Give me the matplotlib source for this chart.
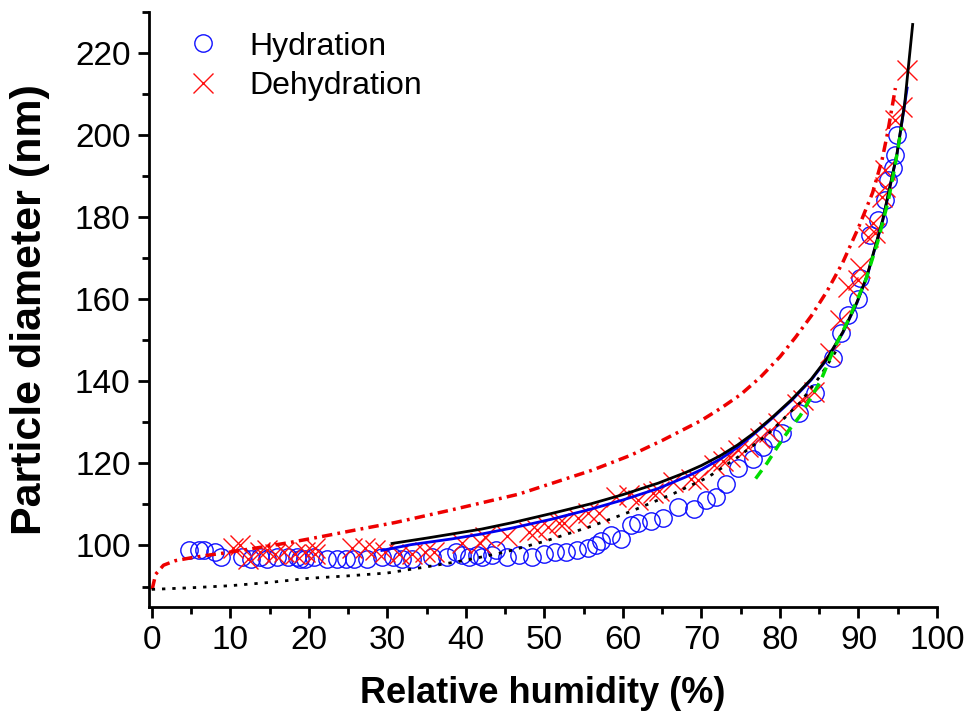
import matplotlib
matplotlib.use('Agg')
import matplotlib.pyplot as plt
from matplotlib.ticker import MultipleLocator

plt.rcParams['font.family'] = ['Liberation Sans', 'DejaVu Sans']

# measured hydration (blue circles)
hyd_rh = [4.8, 6.0, 6.6, 8.1, 8.8, 11.5, 12.6, 13.8, 14.7, 16.0, 17.3, 18.5, 18.9, 19.5,
          20.7, 22.3, 23.6, 24.7, 25.8, 27.4, 29.3, 30.7, 31.9, 33.1, 35.7, 37.6, 38.8,
          39.5, 40.4, 41.4, 42.0, 43.3, 43.9, 45.2, 46.8, 48.4, 50.0, 51.3, 52.8, 54.1,
          55.5, 56.6, 57.2, 58.5, 59.7, 61.0, 61.9, 63.6, 65.1, 67.0, 69.0, 70.6, 71.8,
          73.1, 74.6, 76.6, 77.9, 79.1, 80.2, 82.4, 84.4, 86.7, 87.8, 88.7, 90.0, 90.2,
          91.5, 92.5, 93.4, 93.8, 94.4, 94.7, 94.9]
hyd_d = [99.0, 99.0, 99.0, 98.3, 97.3, 97.1, 96.8, 97.3, 96.8, 97.3, 97.1, 97.3, 96.8, 96.8,
         97.1, 96.8, 96.6, 96.8, 96.8, 96.8, 97.1, 97.1, 96.8, 96.8, 97.1, 97.3, 98.3,
         97.6, 97.1, 97.6, 97.3, 97.6, 99.0, 97.3, 97.8, 97.3, 98.0, 98.3, 98.5, 99.0,
         99.3, 100.0, 101.0, 102.5, 101.7, 104.9, 105.6, 106.0, 106.6, 109.3, 109.0, 111.0, 111.7,
         115.1, 118.8, 121.2, 123.9, 126.3, 127.3, 132.2, 137.1, 145.6, 151.7, 156.1, 160.2, 165.1,
         175.6, 179.3, 184.1, 189.0, 191.9, 195.1, 200.0]

# measured dehydration (red crosses)
deh_rh = [10.3, 11.3, 12.2, 13.8, 14.7, 15.7, 16.9, 18.3, 19.5, 20.8, 20.8, 25.5, 27.2, 28.4,
          29.7, 31.5, 33.1, 34.8, 36.0, 39.5, 41.8, 42.4, 45.2, 48.1, 49.0, 50.5, 51.8, 52.5,
          54.3, 55.6, 56.9, 59.1, 60.8, 61.9, 63.8, 64.6, 66.4, 68.7, 69.5, 71.6, 72.7, 73.7,
          74.6, 75.9, 77.5, 78.6, 79.8, 82.2, 82.9, 84.3, 86.4, 87.7, 88.7, 90.0, 90.2, 91.2,
          91.9, 92.1, 93.0, 93.4, 93.4, 94.7, 95.6, 96.2]
deh_d = [99.5, 100.0, 96.8, 98.3, 98.8, 98.0, 98.3, 98.0, 98.3, 98.0, 99.5, 99.3, 99.3, 98.8,
         98.3, 98.0, 98.0, 98.3, 98.3, 100.5, 100.7, 102.0, 102.4, 103.2, 103.7, 104.4, 105.4, 105.6,
         106.8, 107.8, 108.0, 111.7, 112.2, 111.0, 112.9, 113.4, 115.4, 116.3, 115.9, 119.5, 120.7, 121.5,
         123.2, 123.9, 126.3, 127.6, 129.8, 134.6, 135.4, 137.3, 146.8, 154.9, 162.9, 164.6, 167.6, 175.1,
         178.5, 176.1, 184.9, 187.3, 191.5, 203.7, 206.8, 215.9]

# model curves
dd_rh = [0.05, 0.5, 1.5, 3, 5, 7, 9, 13, 17.5, 21.7, 26, 31, 38, 46.7, 52, 56, 61, 65, 70,
         72.5, 75, 77.5, 80, 82, 84, 86, 88, 90, 91.8, 93, 93.7, 94.7]
dd_d = [89.3, 93, 95.2, 96.3, 97, 97.6, 98.1, 99.3, 100.7, 102.2, 103.8, 105.6, 108.6, 112.5,
        115.8, 118.3, 122, 125.6, 130.5, 133.5, 136.8, 141, 146, 150.8, 156, 162, 169,
        177.5, 186, 194, 200.5, 211.5]

dot_rh = [0, 5, 10, 15, 20, 25, 30, 35, 40, 45, 50, 56, 61, 66.5, 70.8, 74.6, 78.4, 82.6, 85.2, 87.5]
dot_d = [89.3, 89.7, 90.2, 91, 92, 92.6, 93.3, 94.8, 96.4, 98.4, 101, 104.7, 108.3, 112.7,
         116.6, 121.5, 127, 134.9, 141.5, 148.5]

blk_rh = [30.6, 35, 38.2, 42, 46, 50.9, 56, 60, 64.5, 68, 70, 72.5, 74.6, 76.6, 79, 81.5,
          84, 86, 88, 89.8, 91.1, 93.1, 94.9, 95.9, 96.9]
blk_d = [100.5, 101.8, 102.8, 104, 105.6, 107.8, 110.2, 112.4, 115.2, 117.8, 119.5, 122, 124.5,
         127.3, 131.2, 135.6, 140.6, 145.6, 152, 159.3, 165.8, 179.5, 195.5, 208, 227]

blu_rh = [29.3, 33, 38.2, 42, 46, 50.9, 56, 60, 64.5, 68, 70, 72.5, 74.6, 76.6, 79, 81.5, 84,
          86, 88, 89.8, 91.1, 93.1, 94.9, 96.2]
blu_d = [98.8, 100.2, 101.6, 102.8, 104.3, 106.4, 108.9, 111.1, 113.9, 116.7, 118.5, 121.2,
         123.9, 127, 131, 135.4, 140.4, 145.4, 151.8, 159.1, 165.6, 179.3, 195.3, 211.5]

grn_rh = [76.9, 78.4, 79.8, 81.1, 82.6, 83.9, 85.2, 86.8, 88.7, 90.9, 92.4, 93.8, 94.6, 95.5]
grn_d = [116.3, 120.2, 124.4, 128, 131.7, 135.9, 140.2, 147.6, 154.9, 164.6, 173.7, 184.1, 192, 202]

fig = plt.figure(figsize=(9.65, 7.15), dpi=100)
ax = fig.add_axes([0.154, 0.151, 0.817, 0.832])

ax.plot(hyd_rh, hyd_d, 'o', ms=12.5, mfc='none', mec='#1010ff', mew=1.0, label='Hydration')
ax.plot(deh_rh, deh_d, 'x', ms=14, color='#ff1010', mew=1.0, label='Dehydration')

ax.plot(dd_rh, dd_d, color='#ee0000', lw=2.5, dashes=(3, 1.5, 0.8, 1.5))
ax.plot(dot_rh, dot_d, color='black', lw=2, dashes=(1.2, 2.5))
ax.plot(blu_rh, blu_d, color='#0000ee', lw=2)
ax.plot(blk_rh, blk_d, color='black', lw=2)
ax.plot(grn_rh, grn_d, color='#00dd00', lw=2.5, dashes=(3, 2))

ax.set_xlim(-0.4, 100)
ax.set_ylim(85, 230)
ax.xaxis.set_major_locator(MultipleLocator(10))
ax.xaxis.set_minor_locator(MultipleLocator(5))
ax.yaxis.set_major_locator(MultipleLocator(20))
ax.yaxis.set_minor_locator(MultipleLocator(10))

for s in ['top', 'right']:
    ax.spines[s].set_visible(False)
for s in ['left', 'bottom']:
    ax.spines[s].set_linewidth(2)
ax.tick_params(which='major', direction='out', length=8, width=2, labelsize=24, pad=5)
ax.tick_params(which='minor', direction='out', length=5, width=2)

ax.set_xlabel('Relative humidity (%)', fontsize=26, fontweight='bold', labelpad=14)
ax.set_ylabel('Particle diameter (nm)', fontsize=31, fontweight='bold', labelpad=18)

ax.legend(loc='upper left', bbox_to_anchor=(0.0, 1.005), frameon=False, fontsize=23,
          handletextpad=0.45, labelspacing=0.3, borderaxespad=0.3)

fig.savefig('out.png', dpi=100)
